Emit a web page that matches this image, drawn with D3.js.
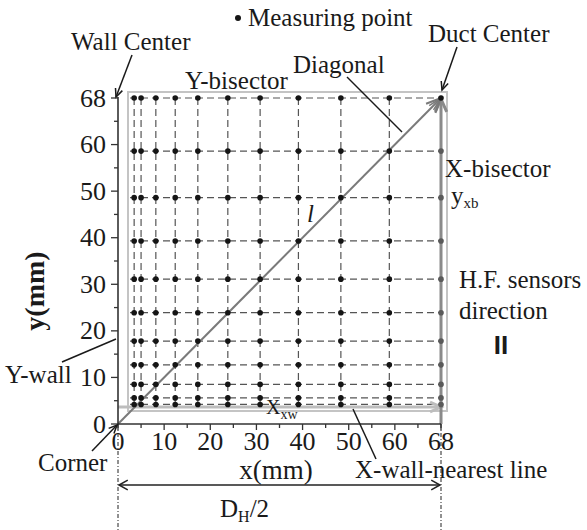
<!DOCTYPE html>
<html><head><meta charset="utf-8">
<script src="https://cdn.jsdelivr.net/npm/d3@7"></script>
<style>
body{margin:0;background:#fff}
svg{display:block}
text{font-family:"Liberation Serif","Times New Roman",serif;fill:#1a1a1a}
</style>
</head><body>
<svg id="c" width="587" height="530"></svg>
<script>
// ---- data ----
const xTickValues = [0, 10, 20, 30, 40, 50, 60, 70];
const xTickLabels = ["0", "10", "20", "30", "40", "50", "60", "68"];
const yTickValues = [0, 10, 20, 30, 40, 50, 60, 70];
const yTickLabels = ["0", "10", "20", "30", "40", "50", "60", "68"];
const minorTickValues = [5, 15, 25, 35, 45, 55, 65];
const xPoints = [3.5, 5, 8.2, 12.4, 17.3, 23.8, 30.8, 39.1, 48.3, 58.8, 70];
const yPoints = [4.2, 5.6, 8.5, 12.7, 17.8, 23.9, 31.1, 39.3, 48.6, 58.6, 70];
const axisDomain = [0, 70];

// ---- drawing ----
const svg = d3.select("#c");
const x = d3.scaleLinear().domain(axisDomain).range([118, 441]);
const y = d3.scaleLinear().domain(axisDomain).range([424, 98]);
const FS = 25;

function chevron(g, x1, y1, x2, y2, size, color, width, ang) {
  const a = Math.atan2(y2 - y1, x2 - x1);
  const h = ang || 0.42;
  const p1 = [x2 - size * Math.cos(a - h), y2 - size * Math.sin(a - h)];
  const p2 = [x2 - size * Math.cos(a + h), y2 - size * Math.sin(a + h)];
  g.append("path").attr("d", `M${p1}L${x2},${y2}L${p2}`)
    .attr("fill", "none").attr("stroke", color).attr("stroke-width", width)
    .attr("stroke-linejoin", "miter");
}
function arrowLine(g, x1, y1, x2, y2, color, width, size) {
  g.append("line").attr("x1", x1).attr("y1", y1).attr("x2", x2).attr("y2", y2)
    .attr("stroke", color).attr("stroke-width", width);
  chevron(g, x1, y1, x2, y2, size || 10, color, width);
}

const g = svg.append("g");

// light gray frame (Y-wall / box)
g.append("rect").attr("x", 128).attr("y", 92).attr("width", 319).attr("height", 319)
  .attr("fill", "none").attr("stroke", "#c4c4c4").attr("stroke-width", 2);

// dashed grid
const yBottom = y(yPoints[0]) + 3;
g.selectAll("line.vg").data(xPoints.slice(0, -1)).enter().append("line")
  .attr("x1", d => x(d)).attr("x2", d => x(d))
  .attr("y1", y(axisDomain[1])).attr("y2", yBottom)
  .attr("stroke", "#555").attr("stroke-width", 1.2).attr("stroke-dasharray", "7,4");
g.selectAll("line.hg").data(yPoints).enter().append("line")
  .attr("x1", 130).attr("x2", x(axisDomain[1]))
  .attr("y1", d => y(d)).attr("y2", d => y(d))
  .attr("stroke", "#555").attr("stroke-width", 1.2).attr("stroke-dasharray", "7,4");

// X_xw light gray arrow
arrowLine(g, x(0), 407, x(axisDomain[1]), 407, "#bdbdbd", 3, 12);

// X-bisector gray line
arrowLine(g, x(axisDomain[1]), y(0), x(axisDomain[1]), y(axisDomain[1]) + 1, "#8a8a8a", 3, 14);

// diagonal
arrowLine(g, x(0), y(0), x(axisDomain[1]), y(axisDomain[1]), "#7a7a7a", 2, 16);
chevron(g, x(0), y(0), x(axisDomain[1]), y(axisDomain[1]), 14, "#7a7a7a", 1.5, 0.22);

// points
const pts = [];
xPoints.forEach((xv, i) => yPoints.forEach(yv => pts.push({xv, yv, last: i === xPoints.length - 1})));
g.selectAll("circle.pt").data(pts).enter().append("circle")
  .attr("cx", d => x(d.xv)).attr("cy", d => y(d.yv)).attr("r", 2.8)
  .attr("fill", d => (d.last && d.yv < axisDomain[1]) ? "#5a5a5a" : "#151515");

// axes
const ax = svg.append("g");
ax.append("line").attr("x1", x(0)).attr("x2", x(0)).attr("y1", y(0)).attr("y2", y(axisDomain[1]) - 1)
  .attr("stroke", "#333").attr("stroke-width", 1.6);
ax.append("line").attr("x1", x(0)).attr("x2", x(axisDomain[1])).attr("y1", y(0)).attr("y2", y(0))
  .attr("stroke", "#333").attr("stroke-width", 1.6);

// y ticks
ax.selectAll("line.ymaj").data(yTickValues).enter().append("line")
  .attr("x1", x(0) - 7).attr("x2", x(0)).attr("y1", d => y(d)).attr("y2", d => y(d))
  .attr("stroke", "#333").attr("stroke-width", 1.3);
ax.selectAll("line.ymin").data(minorTickValues).enter().append("line")
  .attr("x1", x(0) - 4).attr("x2", x(0)).attr("y1", d => y(d)).attr("y2", d => y(d))
  .attr("stroke", "#333").attr("stroke-width", 1.3);
ax.selectAll("text.yl").data(yTickValues).enter().append("text")
  .attr("x", x(0) - 12).attr("y", d => y(d) + 8.5).attr("text-anchor", "end")
  .attr("font-size", 26).text((d, i) => yTickLabels[i]);

// x ticks
ax.selectAll("line.xmaj").data(xTickValues).enter().append("line")
  .attr("x1", d => x(d)).attr("x2", d => x(d)).attr("y1", y(0)).attr("y2", y(0) + 6)
  .attr("stroke", "#333").attr("stroke-width", 1.3);
ax.selectAll("line.xmin").data(minorTickValues).enter().append("line")
  .attr("x1", d => x(d)).attr("x2", d => x(d)).attr("y1", y(0)).attr("y2", y(0) + 4)
  .attr("stroke", "#333").attr("stroke-width", 1.3);
ax.selectAll("text.xl").data(xTickValues).enter().append("text")
  .attr("x", d => x(d)).attr("y", y(0) + 26).attr("text-anchor", "middle")
  .attr("font-size", 26).text((d, i) => xTickLabels[i]);

// axis titles
svg.append("text").attr("x", 276).attr("y", 479).attr("text-anchor", "middle")
  .attr("font-size", 27).text("x(mm)");
svg.append("text").attr("transform", "translate(44,291) rotate(-90)").attr("text-anchor", "middle")
  .attr("font-size", 28).attr("font-weight", "bold").text("y(mm)");

// dimension D_H/2
[x(0), x(axisDomain[1])].forEach(px => {
  svg.append("line").attr("x1", px).attr("x2", px).attr("y1", y(0)).attr("y2", 530)
    .attr("stroke", "#222").attr("stroke-width", 1).attr("stroke-dasharray", "4,2,1,2");
});
const dimY = 485;
svg.append("line").attr("x1", x(0) + 1).attr("x2", x(axisDomain[1]) - 1).attr("y1", dimY).attr("y2", dimY)
  .attr("stroke", "#222").attr("stroke-width", 1.5);
chevron(svg, x(axisDomain[1]), dimY, x(0) + 1, dimY, 10, "#222", 1.5, 0.5);
chevron(svg, x(0), dimY, x(axisDomain[1]) - 1, dimY, 10, "#222", 1.5, 0.5);
const dh = svg.append("text").attr("x", 220).attr("y", 517).attr("font-size", FS);
dh.append("tspan").text("D");
dh.append("tspan").attr("font-size", 16).attr("dy", 5).text("H");
dh.append("tspan").attr("dy", -5).text("/2");

// legend
svg.append("circle").attr("cx", 238).attr("cy", 18).attr("r", 3).attr("fill", "#151515");
svg.append("text").attr("x", 248).attr("y", 26).attr("font-size", FS).text("Measuring point");

// annotations
const ann = svg.append("g");
ann.append("text").attr("x", 71).attr("y", 50).attr("font-size", FS).text("Wall Center");
arrowLine(ann, 132, 55, 116, 97, "#1a1a1a", 1.5, 9);
ann.append("text").attr("x", 428).attr("y", 42).attr("font-size", FS).text("Duct Center");
arrowLine(ann, 457, 47, 442, 90, "#1a1a1a", 1.5, 9);
ann.append("text").attr("x", 185).attr("y", 89).attr("font-size", FS).text("Y-bisector");
ann.append("text").attr("x", 293).attr("y", 73).attr("font-size", FS).text("Diagonal");
ann.append("line").attr("x1", 347).attr("y1", 77).attr("x2", 402).attr("y2", 132)
  .attr("stroke", "#1a1a1a").attr("stroke-width", 1.5);
ann.append("text").attr("x", 445).attr("y", 177).attr("font-size", FS).text("X-bisector");
const yxb = ann.append("text").attr("x", 451).attr("y", 204).attr("font-size", FS).attr("fill", "#333");
yxb.append("tspan").text("y");
yxb.append("tspan").attr("font-size", 15).attr("dy", 4).text("xb");
ann.append("text").attr("x", 307).attr("y", 222).attr("font-size", FS).attr("font-style", "italic").text("l");
ann.append("text").attr("x", 459).attr("y", 288).attr("font-size", FS).text("H.F. sensors");
ann.append("text").attr("x", 459).attr("y", 319).attr("font-size", FS).text("direction");
ann.append("text").attr("x", 501).attr("y", 354).attr("font-size", 26).attr("text-anchor", "middle")
  .style("font-family", "'Liberation Sans',Arial,sans-serif").attr("font-weight", "bold").text("II");
ann.append("text").attr("x", 5).attr("y", 383).attr("font-size", FS).text("Y-wall");
ann.append("line").attr("x1", 62).attr("y1", 362).attr("x2", 116).attr("y2", 339)
  .attr("stroke", "#1a1a1a").attr("stroke-width", 1.5);
ann.append("text").attr("x", 38).attr("y", 471).attr("font-size", FS).text("Corner");
arrowLine(ann, 92, 451, 117, 425, "#1a1a1a", 1.5, 9);
const xxw = ann.append("text").attr("x", 266).attr("y", 414).attr("font-size", 20).attr("fill", "#444");
xxw.append("tspan").text("X");
xxw.append("tspan").attr("font-size", 14).attr("dy", 5).text("xw");
ann.append("text").attr("x", 355).attr("y", 478).attr("font-size", FS).text("X-wall-nearest line");
ann.append("line").attr("x1", 353).attr("y1", 409).attr("x2", 376).attr("y2", 459)
  .attr("stroke", "#1a1a1a").attr("stroke-width", 1.5);
</script>
</body></html>
